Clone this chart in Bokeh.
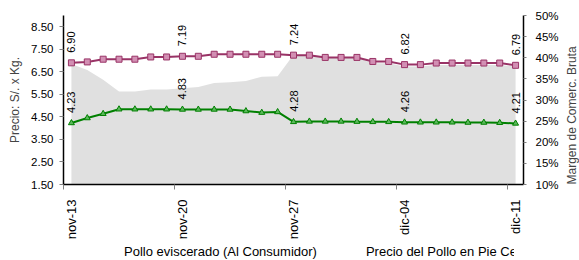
import math
from bokeh.plotting import figure
from bokeh.layouts import column
from bokeh.models import Range1d, LinearAxis, FixedTicker, Legend, LegendItem
from bokeh.core.properties import value
from bokeh.embed import file_html
from bokeh.resources import INLINE

dates = ["nov-13", "nov-14", "nov-15", "nov-16", "nov-17", "nov-18", "nov-19",
         "nov-20", "nov-21", "nov-22", "nov-23", "nov-24", "nov-25", "nov-26",
         "nov-27", "nov-28", "nov-29", "nov-30", "dic-01", "dic-02", "dic-03",
         "dic-04", "dic-05", "dic-06", "dic-07", "dic-08", "dic-09", "dic-10",
         "dic-11"]
consumidor = [6.90, 6.94, 7.06, 7.06, 7.06, 7.16, 7.16, 7.19, 7.19, 7.28,
              7.28, 7.28, 7.28, 7.28, 7.24, 7.24, 7.14, 7.14, 7.14, 6.96,
              6.96, 6.82, 6.82, 6.89, 6.89, 6.89, 6.89, 6.89, 6.79]
pie = [4.23, 4.45, 4.64, 4.84, 4.84, 4.84, 4.84, 4.83, 4.83, 4.83,
       4.83, 4.76, 4.69, 4.72, 4.28, 4.30, 4.30, 4.30, 4.29, 4.28,
       4.28, 4.26, 4.26, 4.26, 4.26, 4.25, 4.25, 4.24, 4.21]
margen = [38.5, 37.1, 34.8, 32.0, 32.0, 32.5, 32.5, 32.8, 33.1, 34.0,
          34.2, 34.5, 35.5, 35.6, 40.7, 40.6, 40.0, 40.0, 40.0, 38.7,
          38.7, 37.9, 37.9, 38.3, 38.3, 38.3, 38.3, 38.3, 37.9]
label_idx = [0, 7, 14, 21, 28]
y_ticks = [1.5, 2.5, 3.5, 4.5, 5.5, 6.5, 7.5, 8.5]
pct_ticks = [10, 15, 20, 25, 30, 35, 40, 45, 50]
serie1 = "Pollo eviscerado (Al Consumidor)"
serie2 = "Precio del Pollo en Pie Centro de Acopio"

idx = list(range(len(dates)))
REG = "Liberation Sans"
PINK = "#993366"
GREEN = "#008000"
PINK_FILL = "#d28fb3"
GREEN_FILL = "#5cb85c"

p = figure(frame_width=460, frame_height=169, x_range=Range1d(-0.5, 28.5), y_range=Range1d(1.5, 9.0),
           output_backend="svg", toolbar_location=None,
           min_border_left=63, min_border_right=10, min_border_top=15, min_border_bottom=0)
p.extra_y_ranges = {"margin": Range1d(10, 50)}
p.outline_line_color = None
p.xgrid.visible = False
p.ygrid.visible = False
p.background_fill_color = "white"
p.border_fill_color = "white"

p.varea(x=idx, y1=[10] * len(idx), y2=margen, y_range_name="margin",
        fill_color="#e0e0e0")

p.line(idx, consumidor, line_color=PINK, line_width=2)
p.scatter(idx, consumidor, marker="square", size=6, line_color=PINK,
          fill_color=PINK_FILL, line_width=1)
p.line(idx, pie, line_color=GREEN, line_width=2)
p.scatter(idx, pie, marker="triangle", size=6, line_color=GREEN,
          fill_color=GREEN_FILL, line_width=1)

for series in (consumidor, pie):
    p.text(x=[i for i in label_idx], y=[series[i] for i in label_idx],
           text=["%.2f" % series[i] for i in label_idx],
           angle=math.pi / 2, text_align="left", text_baseline="middle",
           y_offset=-10, text_font=value(REG), text_font_size="11px",
           text_color="#000000")

xa = p.xaxis[0]
xa.axis_label = None
xa.ticker = FixedTicker(ticks=label_idx, minor_ticks=[i - 0.5 for i in label_idx])
xa.major_label_overrides = {i: dates[i] for i in label_idx}
xa.major_label_orientation = math.pi / 2
xa.major_tick_out = 0
xa.major_tick_in = 0
xa.minor_tick_out = 5
xa.minor_tick_in = 0
xa.minor_tick_line_color = "#808080"
xa.major_label_standoff = 10
xa.major_label_text_font = REG
xa.major_label_text_font_size = "13px"
xa.major_label_text_color = "#000000"
xa.axis_line_color = "#000000"
xa.axis_line_width = 1.5

ya = p.yaxis[0]
ya.ticker = FixedTicker(ticks=y_ticks, minor_ticks=[])
ya.major_label_overrides = {t: "%.2f" % t for t in y_ticks}
ya.major_tick_out = 4
ya.major_tick_in = 0
ya.major_tick_line_color = "#808080"
ya.major_label_standoff = 6
ya.major_label_text_font = REG
ya.major_label_text_font_size = "11.5px"
ya.major_label_text_color = "#000000"
ya.axis_line_color = "#000000"
ya.axis_line_width = 1.5
ya.axis_label = "Precio: S/. x Kg."
ya.axis_label_text_font = REG
ya.axis_label_text_font_size = "12px"
ya.axis_label_text_font_style = "normal"
ya.axis_label_standoff = 6

ra = LinearAxis(y_range_name="margin")
ra.ticker = FixedTicker(ticks=pct_ticks, minor_ticks=[])
ra.major_label_overrides = {t: "%d%%" % t for t in pct_ticks}
ra.major_tick_out = 3
ra.major_tick_in = 0
ra.major_tick_line_color = "#808080"
ra.major_label_standoff = 9
ra.major_label_text_font = REG
ra.major_label_text_font_size = "11.5px"
ra.major_label_text_color = "#000000"
ra.axis_line_color = "#000000"
ra.axis_line_width = 1.5
ra.axis_label = "Margen de Comerc. Bruta"
ra.axis_label_text_font = REG
ra.axis_label_text_font_size = "12px"
ra.axis_label_text_font_style = "normal"
ra.axis_label_standoff = 10
ra.axis_label_orientation = math.pi / 2
if "axis_label_align" in LinearAxis.properties():
    ra.axis_label_align = "start"
p.add_layout(ra, "right")

# legend strip under the chart
p3 = figure(width=579, height=20, x_range=Range1d(0, 579), y_range=Range1d(0, 20),
            output_backend="svg", toolbar_location=None,
            x_axis_type=None, y_axis_type=None, min_border=0)
p3.outline_line_color = None
p3.grid.visible = False
p3.border_fill_color = "white"
k1 = p3.line(x=[], y=[], line_color=PINK, line_width=2)
k1m = p3.scatter(x=[], y=[], marker="square", size=6, line_color=PINK,
                 fill_color=PINK_FILL, line_width=1)
k2 = p3.line(x=[], y=[], line_color=GREEN, line_width=2)
k2m = p3.scatter(x=[], y=[], marker="triangle", size=6, line_color=GREEN,
                 fill_color=GREEN_FILL, line_width=1)
legend = Legend(items=[LegendItem(label=serie1, renderers=[k1, k1m]),
                       LegendItem(label=serie2, renderers=[k2, k2m])],
                orientation="horizontal", location=(35, 3),
                glyph_width=25, glyph_height=12, label_height=14, label_standoff=1,
                spacing=23, padding=0, margin=0,
                label_text_font=REG, label_text_font_size="13px",
                label_text_color="#000000",
                border_line_color=None, background_fill_alpha=0)
p3.add_layout(legend)

layout = column(p, p3, spacing=0)
open("out.html", "w").write(file_html(layout, INLINE))
